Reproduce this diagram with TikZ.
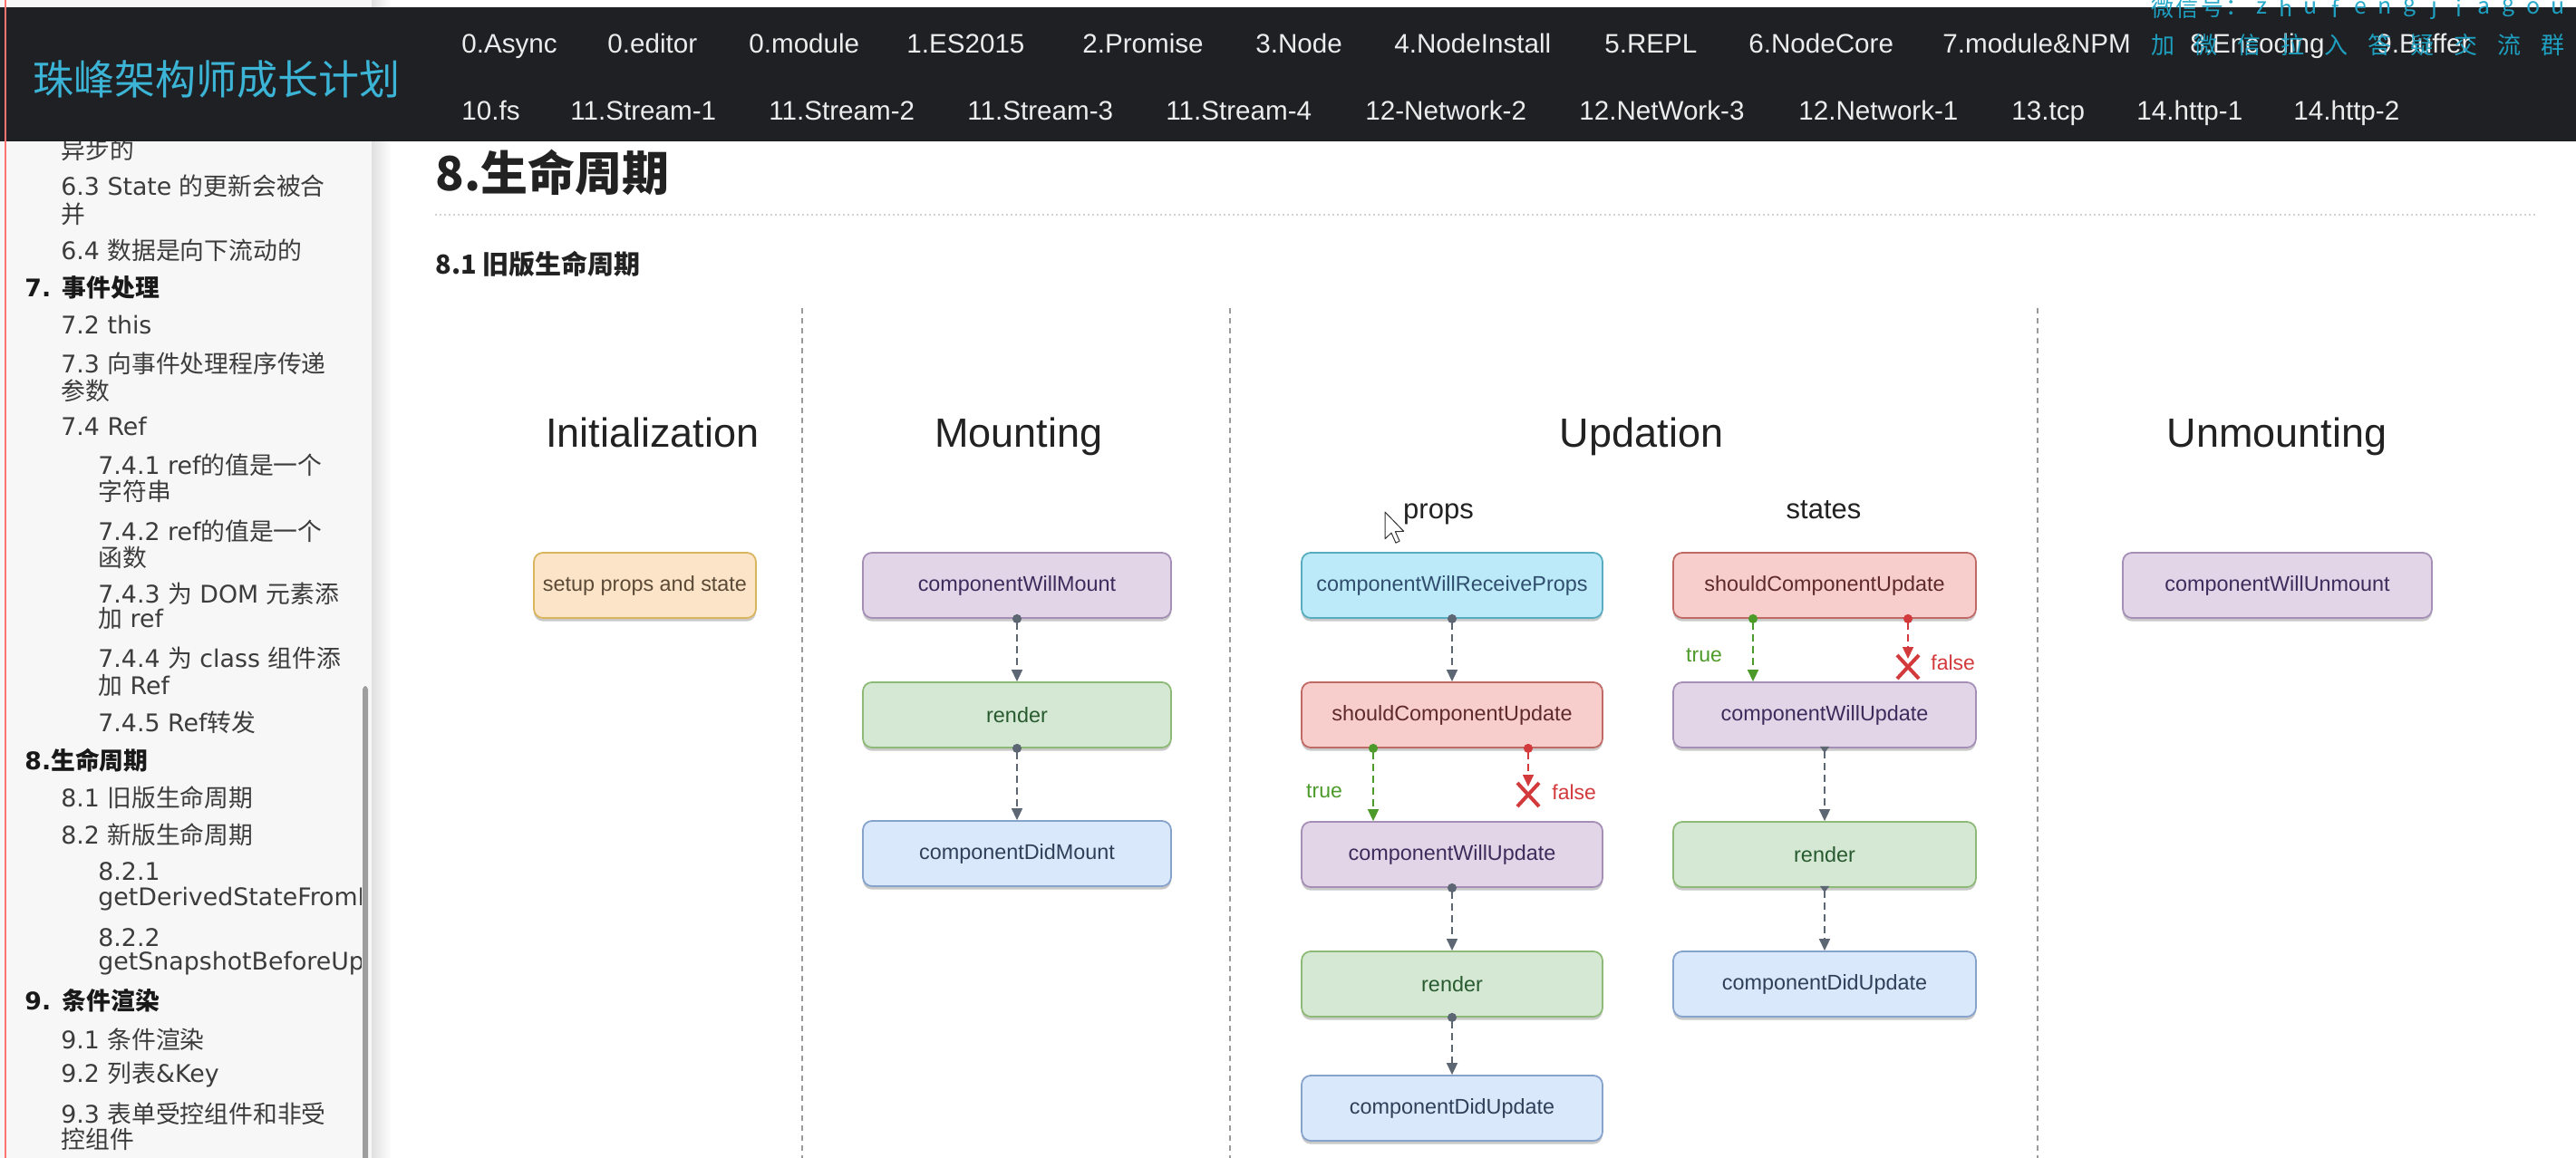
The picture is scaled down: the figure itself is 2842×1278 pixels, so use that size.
\documentclass[tikz,border=0pt]{standalone}
\usepackage{fontspec}
\setmainfont{Liberation Sans}
\newfontfamily\cjk{Noto Sans CJK SC}
\newfontfamily\lat{DejaVu Sans}
\usetikzlibrary{arrows.meta,shadows}

\definecolor{barbg}{HTML}{1E2024}
\definecolor{navtext}{HTML}{ECECEC}
\definecolor{brandcyan}{HTML}{3BB4D6}
\definecolor{wmcyan}{HTML}{1FA6C8}
\definecolor{sidebg}{HTML}{F7F7F7}
\definecolor{sidetext}{HTML}{3C3C3C}
\definecolor{headtext}{HTML}{222222}
\definecolor{sepgray}{HTML}{9A9A9A}
\definecolor{flowgray}{HTML}{5D6673}
\definecolor{truegreen}{HTML}{4C9A2A}
\definecolor{falsered}{HTML}{D23A3C}
\definecolor{orfill}{HTML}{FCE4C8}\definecolor{ordraw}{HTML}{D9B55E}\definecolor{ortext}{HTML}{5B4A36}
\definecolor{pufill}{HTML}{E1D5E7}\definecolor{pudraw}{HTML}{A68FB6}\definecolor{putext}{HTML}{3D2B5C}
\definecolor{grfill}{HTML}{D5E8D4}\definecolor{grdraw}{HTML}{8DBA76}\definecolor{grtext}{HTML}{275A2F}
\definecolor{blfill}{HTML}{DAE8FC}\definecolor{bldraw}{HTML}{86A3CC}\definecolor{bltext}{HTML}{2E3F57}
\definecolor{rdfill}{HTML}{F8CECC}\definecolor{rddraw}{HTML}{C06A66}\definecolor{rdtext}{HTML}{5E2A2A}
\definecolor{cyfill}{HTML}{BDEAF8}\definecolor{cydraw}{HTML}{57ACC0}\definecolor{cytext}{HTML}{2F4E6E}

\tikzset{
  nav/.style={anchor=base west, inner sep=0pt, text=navtext, font=\fontsize{14.8}{18}\selectfont},
  wm/.style={inner sep=0pt, text=wmcyan, opacity=0.95, font=\cjk\fontsize{12.5}{15}\selectfont},
  wmb/.style={wm, font=\cjk\fontsize{13}{15}\selectfont},
  side/.style={anchor=west, inner sep=0pt, text=sidetext, font=\cjk\fontsize{13.4}{16}\selectfont},
  sidehead/.style={side, text=black!90, font=\cjk\bfseries\fontsize{13.4}{16}\selectfont},
  phase/.style={anchor=base, inner sep=0pt, text=headtext, font=\fontsize{22.5}{27}\selectfont},
  subhead/.style={anchor=base, inner sep=0pt, text=headtext, font=\fontsize{15.5}{19}\selectfont},
  colsep/.style={draw=sepgray, line width=0.6pt, dash pattern=on 3pt off 2.5pt},
  box/.style={draw, rounded corners=5pt, line width=0.9pt, minimum height=36pt, inner sep=2pt,
    font=\fontsize{11.7}{14}\selectfont,
    drop shadow={shadow xshift=0pt, shadow yshift=-1.8pt, opacity=0.35, fill=black!60}},
  orbox/.style={box, fill=orfill, draw=ordraw, text=ortext},
  pubox/.style={box, fill=pufill, draw=pudraw, text=putext},
  grbox/.style={box, fill=grfill, draw=grdraw, text=grtext},
  blbox/.style={box, fill=blfill, draw=bldraw, text=bltext},
  rdbox/.style={box, fill=rdfill, draw=rddraw, text=rdtext},
  cybox/.style={box, fill=cyfill, draw=cydraw, text=cytext},
  flow/.style={draw=flowgray, line width=0.8pt, dash pattern=on 4pt off 2.5pt, shorten <=-2.5pt,
    arrows={Circle[length=5pt]-Triangle[length=6.5pt,width=6pt]}},
  flowtri/.style={flow, shorten <=-1pt,
    arrows={Triangle[reversed,length=3.5pt,width=5pt]-Triangle[length=6.5pt,width=6pt]}},
  flowtrue/.style={flow, draw=truegreen},
  flowfalse/.style={flow, draw=falsered},
  xmark/.style={draw=falsered, line width=2pt},
  lbl/.style={inner sep=0pt, font=\fontsize{11.5}{14}\selectfont},
}

\begin{document}
\begin{tikzpicture}[x=0.5pt,y=-0.5pt]
\useasboundingbox (0,0) rectangle (2842,1278);
\fill[white] (0,0) rectangle (2842,1278);

% ---------- sidebar ----------
\fill[sidebg] (0,0) rectangle (410,1278);
\shade[left color=black!12, right color=white] (410,0) rectangle (432,1278);
\begin{scope}
\clip (0,0) rectangle (398,1278);
\node[side] (s01) at (67,165) {异步的};
\node[side] (s02) at (67,205) {{\lat 6.3 State }的更新会被合};
\node[side] (s03) at (67,236) {并};
\node[side] (s04) at (67,276) {{\lat 6.4 }数据是向下流动的};
\node[sidehead] (s05) at (27,317) {{\lat\bfseries 7. }事件处理};
\node[side] (s06) at (67,359) {{\lat 7.2 this}};
\node[side] (s07) at (67,401) {{\lat 7.3 }向事件处理程序传递};
\node[side] (s08) at (67,431) {参数};
\node[side] (s09) at (67,471) {{\lat 7.4 Ref}};
\node[side] (s10) at (108,513) {{\lat 7.4.1 ref}的值是一个};
\node[side] (s11) at (108,542) {字符串};
\node[side] (s12) at (108,586) {{\lat 7.4.2 ref}的值是一个};
\node[side] (s13) at (108,615) {函数};
\node[side] (s14) at (108,655) {{\lat 7.4.3 }为{\lat\ DOM }元素添};
\node[side] (s15) at (108,683) {加{\lat\ ref}};
\node[side] (s16) at (108,726) {{\lat 7.4.4 }为{\lat\ class }组件添};
\node[side] (s17) at (108,756) {加{\lat\ Ref}};
\node[side] (s18) at (108,797) {{\lat 7.4.5 Ref}转发};
\node[sidehead] (s19) at (27,839) {{\lat\bfseries 8.}生命周期};
\node[side] (s20) at (67,880) {{\lat 8.1 }旧版生命周期};
\node[side] (s21) at (67,921) {{\lat 8.2 }新版生命周期};
\node[side] (s22) at (108,962) {{\lat 8.2.1}};
\node[side] (s23) at (108,992) {{\lat getDerivedStateFromProps}};
\node[side] (s24) at (108,1035) {{\lat 8.2.2}};
\node[side] (s25) at (108,1063) {{\lat getSnapshotBeforeUpdate}};
\node[sidehead] (s26) at (27,1104) {{\lat\bfseries 9. }条件渲染};
\node[side] (s27) at (67,1147) {{\lat 9.1 }条件渲染};
\node[side] (s28) at (67,1186) {{\lat 9.2 }列表{\lat \&Key}};
\node[side] (s29) at (67,1229) {{\lat 9.3 }表单受控组件和非受};
\node[side] (s30) at (67,1257) {控组件};
\end{scope}
\fill[black!38, rounded corners=2pt] (400,757) rectangle (406,1290);

% ---------- page headings ----------
\node[anchor=west, inner sep=0pt, text=headtext, font=\cjk\bfseries\fontsize{26}{30}\selectfont] (h1) at (480,190) {8.生命周期};
\draw[black!18, line width=1pt, dash pattern=on 1pt off 1.5pt] (480,237) -- (2800,237);
\node[anchor=west, inner sep=0pt, text=headtext, font=\cjk\bfseries\fontsize{14.5}{18}\selectfont] (h2) at (480,291) {8.1 旧版生命周期};

% ---------- column separators ----------
\draw[colsep] (885,340) -- (885,1278);
\draw[colsep] (1357,340) -- (1357,1278);
\draw[colsep] (2248,340) -- (2248,1278);

% ---------- phase titles ----------
\node[phase] (tInit) at (720,493) {Initialization};
\node[phase] (tMount) at (1124,493) {Mounting};
\node[phase] (tUpd) at (1811,493) {Updation};
\node[phase] (tUnm) at (2512,493) {Unmounting};
\node[subhead] (tProps) at (1587,572) {props};
\node[subhead] (tStates) at (2012,572) {states};

% ---------- Initialization ----------
\node[orbox, minimum width=122.5pt] (init) at (711.5,646) {setup props and state};

% ---------- Mounting ----------
\node[pubox, minimum width=170pt] (mWM) at (1122,646) {componentWillMount};
\node[grbox, minimum width=170pt] (mR) at (1122,789) {render};
\node[blbox, minimum width=170pt] (mDM) at (1122,942) {componentDidMount};
\draw[flow] (mWM.south) -- (mR.north);
\draw[flow] (mR.south) -- (mDM.north);

% ---------- Updation: props ----------
\node[cybox, minimum width=166pt] (pWRP) at (1602,646) {componentWillReceiveProps};
\node[rdbox, minimum width=166pt] (pSCU) at (1602,789) {shouldComponentUpdate};
\node[pubox, minimum width=166pt] (pWU) at (1602,943) {componentWillUpdate};
\node[grbox, minimum width=166pt] (pR) at (1602,1086) {render};
\node[blbox, minimum width=166pt] (pDU) at (1602,1223) {componentDidUpdate};
\draw[flow] (pWRP.south) -- (pSCU.north);
\coordinate (pT) at (1515,0);
\coordinate (pFend) at (1686,868);
\coordinate (pX) at (1686,877);
\draw[flowtrue] (pSCU.south -| pT) -- (pWU.north -| pT);
\draw[flowfalse] (pSCU.south -| pFend) -- (pFend);
\draw[xmark] (pX) ++(-12,-13) -- ++(24,26) (pX) ++(12,-13) -- ++(-24,26);
\node[lbl, text=truegreen] (pTl) at (1461,873) {true};
\node[lbl, text=falsered, anchor=west] (pFl) at (1712,874) {false};
\draw[flow] (pWU.south) -- (pR.north);
\draw[flow] (pR.south) -- (pDU.north);

% ---------- Updation: states ----------
\node[rdbox, minimum width=167pt] (sSCU) at (2013,646) {shouldComponentUpdate};
\node[pubox, minimum width=167pt] (sWU) at (2013,789) {componentWillUpdate};
\node[grbox, minimum width=167pt] (sR) at (2013,943) {render};
\node[blbox, minimum width=167pt] (sDU) at (2013,1086) {componentDidUpdate};
\coordinate (sT) at (1934,0);
\coordinate (sFend) at (2105,727);
\coordinate (sX) at (2105,736);
\draw[flowtrue] (sSCU.south -| sT) -- (sWU.north -| sT);
\draw[flowfalse] (sSCU.south -| sFend) -- (sFend);
\draw[xmark] (sX) ++(-12,-13) -- ++(24,26) (sX) ++(12,-13) -- ++(-24,26);
\node[lbl, text=truegreen] (sTl) at (1880,723) {true};
\node[lbl, text=falsered, anchor=west] (sFl) at (2130,731) {false};
\draw[flowtri] (sWU.south) -- (sR.north);
\draw[flowtri] (sR.south) -- (sDU.north);

% ---------- Unmounting ----------
\node[pubox, minimum width=170.5pt] (uWU) at (2512.5,646) {componentWillUnmount};

% ---------- mouse pointer ----------
\begin{scope}[shift={(1528,565)}, scale=1.75]
\filldraw[fill=white, draw=black!80, line width=0.5pt, line join=round]
  (0,0) -- (0,17) -- (4,13.2) -- (6.8,19.5) -- (9.2,18.4) -- (6.5,12.4) -- (11.8,12.2) -- cycle;
\end{scope}

% ---------- top bar ----------
\fill[barbg] (0,8) rectangle (2842,156);
\node[anchor=west, inner sep=0pt, text=brandcyan, font=\cjk\fontsize{22.5}{27}\selectfont] (brand) at (36,88) {珠峰架构师成长计划};

\foreach \t/\x [count=\i] in {0.Async/509, 0.editor/670, 0.module/826, 1.ES2015/1000, 2.Promise/1194,
  3.Node/1385, 4.NodeInstall/1538, 5.REPL/1770, 6.NodeCore/1929, 7.module\&NPM/2143,
  8.Encoding/2416, 9.Buffer/2622}
  \node[nav] (navA\i) at (\x,58.5) {\t};
\foreach \t/\x [count=\i] in {10.fs/509, 11.Stream-1/629, 11.Stream-2/848, 11.Stream-3/1067, 11.Stream-4/1286,
  12-Network-2/1506, 12.NetWork-3/1742, 12.Network-1/1984, 13.tcp/2219, 14.http-1/2357, 14.http-2/2530}
  \node[nav] (navB\i) at (\x,132.5) {\t};

% ---------- contact overlay ----------
\foreach \c [count=\i from 0] in {微,信,号,：,z,h,u,f,e,n,g,j,i,a,g,o,u}
  \node[wm] (wa\i) at (2386+27.25*\i,9) {\c};
\foreach \c [count=\i from 0] in {加,微,信,拉,入,答,疑,交,流,群}
  \node[wmb] (wb\i) at (2386+47.8*\i,50) {\c};

% ---------- left margin rule ----------
\draw[red!55, line width=0.6pt] (6,0) -- (6,1278);
\end{tikzpicture}
\end{document}
